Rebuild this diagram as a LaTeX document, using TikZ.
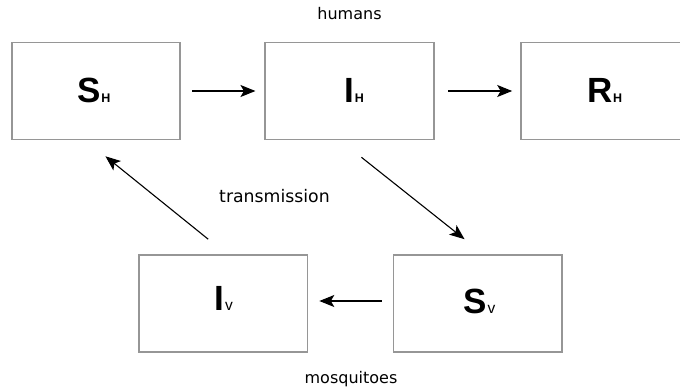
\documentclass[tikz,border=0pt]{standalone}
\usepackage{fontspec}
\setmainfont{Liberation Sans}
\newfontfamily\dv{DejaVu Sans}
\usetikzlibrary{arrows.meta,calc}
\definecolor{boxgray}{HTML}{969696}
\tikzset{
  compbox/.style={draw=boxgray, line width=1.6pt, minimum width=168.5pt, minimum height=97pt, inner sep=0pt},
  complab/.style={anchor=base west, inner sep=0pt, font=\fontsize{35}{40}\selectfont\bfseries},
  grouplab/.style={anchor=base, inner sep=0pt, font=\dv\fontsize{16}{19}\selectfont},
  flow/.style={line width=1.1pt, -{Stealth[length=15pt, width=12pt, inset=3.5pt]}}
}
\newcommand{\subH}{\kern0.3pt{\fontsize{12.5}{13}\selectfont\bfseries H}}
\newcommand{\subV}{\kern0.6pt{\fontsize{15.5}{16}\selectfont\mdseries v}}
\begin{document}
\begin{tikzpicture}[x=1pt, y=-1pt]
\useasboundingbox (0,0) rectangle (680,391);
\clip (0,0) rectangle (680,391);
% boxes
\node[compbox] (SH) at (96,91) {};
\node[compbox] (IH) at (349.5,91) {};
\node[compbox] (RH) at (605.25,91) {};
\node[compbox] (IV) at (223.25,303.5) {};
\node[compbox] (SV) at (477.6,303.5) {};
% labels inside boxes
\node[complab] (lSH) at ($(SH.center)+(-18.5,11)$) {S\subH};
\node[complab] (lIH) at ($(IH.center)+(-4.9,11)$) {I\subH};
\node[complab] (lRH) at ($(RH.center)+(-18,11)$) {R\subH};
\node[complab] (lIV) at ($(IV.center)+(-8.7,6.5)$) {I\subV};
\node[complab] (lSV) at ($(SV.center)+(-14.1,9.5)$) {S\subV};
% group labels
\node[grouplab] (humans) at (349.5,19) {humans};
\node[grouplab] (mosq) at (351,383.3) {mosquitoes};
\node[grouplab, font=\dv\fontsize{17.3}{20}\selectfont] (trans) at (274.5,202) {transmission};
% connectors
\draw[flow, shorten <=11pt, shorten >=9pt] (SH.east) -- (IH.west);
\draw[flow, shorten <=13.5pt, shorten >=8pt] (IH.east) -- (RH.west);
\draw[flow, shorten <=11pt, shorten >=11pt] ([yshift=2.5pt]SV.west) -- ([yshift=2.5pt]IV.east);
\coordinate (a1) at ($(IV.north west)+(70,-15)$);
\coordinate (a2) at ($(SH.south west)+(94.5,16)$);
\draw[flow] (a1) -- (a2);
\coordinate (b1) at ($(IH.south west)+(97,17)$);
\coordinate (b2) at ($(SV.north west)+(72,-15)$);
\draw[flow] (b1) -- (b2);
\end{tikzpicture}
\end{document}
